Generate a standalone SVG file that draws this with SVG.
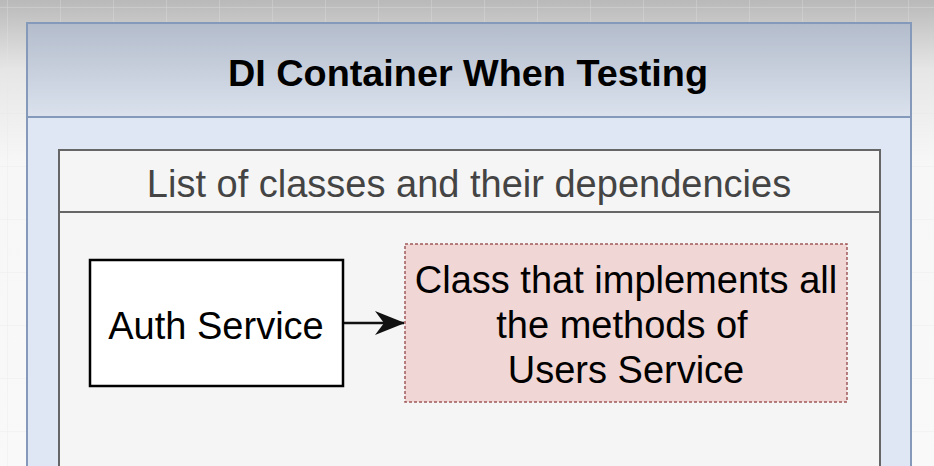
<svg xmlns="http://www.w3.org/2000/svg" width="934" height="466" viewBox="0 0 934 466">
  <defs>
    <linearGradient id="bg" x1="0" y1="0" x2="0" y2="1">
      <stop offset="0" stop-color="#b9b9b9"/>
      <stop offset="0.15" stop-color="#e6e6e6"/>
      <stop offset="0.35" stop-color="#f7f7f7"/>
      <stop offset="1" stop-color="#f9f9f9"/>
    </linearGradient>
    <linearGradient id="hdr" x1="0" y1="0" x2="0" y2="1">
      <stop offset="0" stop-color="#b3bccb"/>
      <stop offset="1" stop-color="#dbe2ee"/>
    </linearGradient>
    <pattern id="grid" width="53" height="53" patternUnits="userSpaceOnUse" x="8" y="8">
      <path d="M53 0V53M0 53H53" fill="none" stroke="#e4e4e4" stroke-width="1"/>
    </pattern>
    <marker id="arr" viewBox="0 0 30 24" refX="29" refY="12" markerWidth="30" markerHeight="24" markerUnits="userSpaceOnUse" orient="auto">
      <path d="M0 0 L30 12 L0 24 L9 12 Z" fill="#111"/>
    </marker>
    <style>
      .t { font-family: "Liberation Sans", Arial, sans-serif; text-anchor: middle; }
    </style>
  </defs>
  <rect width="934" height="466" fill="url(#bg)"/>
  <rect width="934" height="466" fill="url(#grid)" opacity="0.6"/>

  <g id="container">
    <rect x="27" y="23" width="884" height="460" fill="#dfe7f5" stroke="#8599bb" stroke-width="2"/>
    <rect x="27" y="23" width="884" height="94" fill="url(#hdr)" stroke="#8599bb" stroke-width="2"/>
    <text class="t" x="468" y="86" font-size="36" font-weight="bold" fill="#000" textLength="480" lengthAdjust="spacingAndGlyphs">DI Container When Testing</text>
  </g>

  <g id="list">
    <rect x="59" y="150" width="821" height="330" fill="#f5f5f5" stroke="#666" stroke-width="2"/>
    <line x1="59" y1="212" x2="880" y2="212" stroke="#666" stroke-width="2"/>
    <text class="t" x="469" y="197" font-size="38" fill="#444">List of classes and their dependencies</text>
  </g>

  <g id="connectors">
    <line x1="343" y1="323" x2="404" y2="323" stroke="#111" stroke-width="2.5" marker-end="url(#arr)"/>
  </g>

  <g id="auth">
    <rect x="90" y="260" width="253" height="126" fill="#fff" stroke="#000" stroke-width="2.5"/>
    <text class="t" x="216" y="339" font-size="38" fill="#000">Auth Service</text>
  </g>

  <g id="impl">
    <rect x="405" y="244" width="442" height="158" fill="#f0d6d4" stroke="#a05a5a" stroke-width="1.5" stroke-dasharray="3 2"/>
    <text class="t" font-size="38" fill="#000"><tspan x="626" y="293">Class that implements all</tspan><tspan x="622" y="338">the methods of</tspan><tspan x="626" y="383">Users Service</tspan></text>
  </g>
</svg>
